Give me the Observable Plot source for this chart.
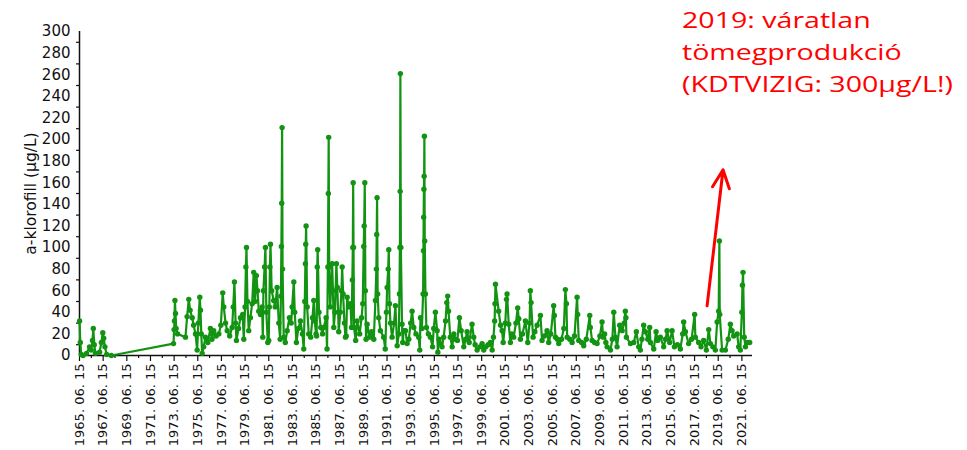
<!DOCTYPE html>
<html><head><meta charset="utf-8">
<script src="https://cdn.jsdelivr.net/npm/d3@7"></script>
<script src="https://cdn.jsdelivr.net/npm/@observablehq/plot@0.6"></script>
<style>
body{margin:0;background:#fff;}
#wrap{position:relative;width:967px;height:450px;}
#note{position:absolute;left:682px;top:4px;color:#ff0000;font-family:"Open Sans",sans-serif;font-size:21px;line-height:32px;transform:scaleX(1.36);transform-origin:0 0;white-space:nowrap;}
</style></head><body>
<div id="wrap"><div id="note">2019: váratlan<br>tömegprodukció<br>(KDTVIZIG: 300µg/L!)</div></div>
<script>
// sampling time (decimal years) and a-chlorophyll (µg/L)
const sampleYear = [
1965.46,1965.52,1965.60,1965.75,1966.05,1966.30,1966.45,1966.55,1966.62,1966.70,1966.80,1967.15,1967.30,1967.42,1967.50,1967.60,1967.75,1968.15,
1973.40,1973.45,1973.48,1973.52,1973.57,1973.62,1973.75,1974.41,1974.55,1974.69,1974.80,1974.98,1975.10,1975.26,1975.40,1975.50,1975.62,1975.68,1975.75,1975.82,1975.95,
1976.10,1976.30,1976.52,1976.65,1976.80,1977.00,1977.23,1977.40,1977.56,1977.65,1977.80,1977.94,1978.15,1978.36,1978.45,1978.55,1978.65,1978.72,1978.90,
1979.06,1979.25,1979.34,1979.45,1979.52,1979.57,1979.65,1979.76,1979.90,1980.05,1980.18,1980.28,1980.41,1980.50,1980.61,1980.75,1980.89,1980.95,
1981.00,1981.10,1981.17,1981.25,1981.37,1981.45,1981.50,1981.55,1981.60,1981.70,1981.87,1982.00,1982.16,1982.30,1982.42,1982.48,1982.52,1982.55,1982.58,1982.62,1982.72,1982.85,
1983.01,1983.20,1983.35,1983.43,1983.57,1983.65,1983.79,1983.95,1984.13,1984.30,1984.41,1984.50,1984.55,1984.58,1984.61,1984.70,1984.83,
1985.00,1985.15,1985.26,1985.34,1985.45,1985.50,1985.55,1985.59,1985.70,1985.85,1986.00,1986.10,1986.30,1986.38,1986.45,1986.49,1986.52,1986.56,1986.65,1986.81,1986.88,1986.95,
1987.05,1987.17,1987.25,1987.37,1987.50,1987.60,1987.66,1987.74,1987.85,1987.94,1988.00,1988.08,1988.20,1988.36,1988.45,1988.52,1988.56,1988.59,1988.62,1988.66,1988.80,1988.92,
1989.14,1989.30,1989.40,1989.48,1989.52,1989.57,1989.62,1989.68,1989.77,1989.99,1990.15,1990.33,1990.47,1990.55,1990.58,1990.61,1990.66,1990.75,1990.89,
1991.17,1991.30,1991.40,1991.46,1991.55,1991.60,1991.66,1991.74,1991.88,1992.05,1992.16,1992.31,1992.45,1992.50,1992.54,1992.56,1992.58,1992.62,1992.72,1992.78,1992.86,
1993.01,1993.15,1993.29,1993.45,1993.57,1993.71,1993.90,1994.13,1994.22,1994.28,1994.40,1994.50,1994.53,1994.55,1994.57,1994.59,1994.61,1994.64,1994.70,1994.78,1994.95,
1995.12,1995.30,1995.40,1995.54,1995.69,1995.75,1995.85,1995.97,1996.10,1996.24,1996.40,1996.50,1996.58,1996.65,1996.80,1996.96,
1997.10,1997.23,1997.40,1997.57,1997.72,1997.94,1998.10,1998.22,1998.40,1998.64,1998.78,1998.90,1999.07,1999.30,1999.49,1999.63,1999.80,
2000.00,2000.19,2000.34,2000.45,2000.55,2000.58,2000.62,2000.89,2001.05,2001.18,2001.27,2001.45,2001.55,2001.60,2001.74,2001.88,
2002.00,2002.16,2002.35,2002.50,2002.59,2002.73,2002.90,2003.15,2003.35,2003.50,2003.57,2003.63,2003.80,2003.95,
2004.14,2004.42,2004.56,2004.75,2004.98,2005.12,2005.30,2005.54,2005.60,2005.69,2005.85,2005.97,
2006.20,2006.40,2006.53,2006.62,2006.68,2006.90,2007.10,2007.30,2007.52,2007.57,2007.66,2007.90,
2008.08,2008.30,2008.59,2008.64,2008.79,2009.00,2009.21,2009.45,2009.63,2009.72,2009.85,2009.95,
2010.06,2010.34,2010.50,2010.62,2010.76,2010.90,2011.12,2011.33,2011.50,2011.60,2011.65,2011.69,
2012.03,2012.31,2012.53,2012.73,2012.87,2013.00,2013.15,2013.29,2013.50,2013.66,2013.72,
2014.00,2014.20,2014.33,2014.56,2014.84,2015.00,2015.13,2015.35,2015.55,2015.75,
2016.00,2016.25,2016.45,2016.53,2016.68,2016.95,2017.20,2017.46,2017.52,2017.80,
2018.00,2018.22,2018.45,2018.65,2018.79,2019.00,2019.21,2019.36,2019.49,2019.55,2019.58,2019.78,
2020.06,2020.30,2020.48,2020.62,2020.76,2021.05,2021.18,2021.32,2021.45,2021.50,2021.55,2021.65,2021.75,2021.89,2022.11
];
const chlorophyll = [
32,12,1,0,2,8,5,14,25,10,2,3,12,21,16,8,1,0,
11,24,32,51,39,25,20,17,36,52,42,35,28,20,5,30,54,42,20,2,8,
17,12,25,15,23,18,20,28,58,45,30,23,18,26,45,68,30,14,25,
35,38,15,45,82,100,50,23,35,48,77,50,74,60,41,38,45,17,
60,82,100,40,12,14,45,82,103,60,51,45,63,30,15,55,101,141,211,80,17,12,
23,35,30,45,68,40,12,25,32,20,6,50,85,103,120,45,20,
17,35,51,32,20,18,82,98,40,26,20,26,35,6,82,150,202,82,45,85,60,26,
40,85,63,22,40,60,82,57,30,17,18,54,45,48,26,70,100,160,100,26,14,32,
20,35,48,101,120,160,60,15,29,17,22,15,51,80,112,146,57,35,23,
17,6,40,63,80,98,48,30,17,30,46,9,20,57,100,152,261,100,29,12,23,
23,11,15,30,41,26,20,17,5,35,25,57,97,128,154,166,203,106,57,26,20,
17,8,25,40,23,3,15,11,8,17,32,49,55,41,17,8,
20,15,14,35,23,8,15,22,12,29,17,10,5,8,11,5,8,
10,12,5,17,32,48,66,41,28,23,12,30,52,57,29,12,
20,17,30,44,34,15,20,32,12,30,60,49,17,22,
28,37,14,18,23,12,20,46,37,17,15,11,
15,25,61,48,17,15,12,18,54,38,14,12,
9,15,37,26,14,12,11,18,31,17,20,12,
8,5,15,40,17,8,28,23,30,41,35,17,
11,12,22,8,5,15,28,22,15,26,12,
6,22,14,17,8,15,23,12,23,8,
10,6,20,31,22,11,15,38,17,12,
8,14,5,24,11,8,5,31,41,106,38,5,
5,15,29,23,18,20,8,5,40,65,77,17,8,12,12
];
const yTickLabels = [0,20,40,60,80,100,120,140,160,180,200,220,240,260,280,300];
const yTickMarks = [10,30,50,70,90,110,130,150,170,190,210,230,250,270,290];
const xTickLabels = ["1965. 06. 15","1967. 06. 15","1969. 06. 15","1971. 06. 15","1973. 06. 15","1975. 06. 15","1977. 06. 15","1979. 06. 15","1981. 06. 15","1983. 06. 15","1985. 06. 15","1987. 06. 15","1989. 06. 15","1991. 06. 15","1993. 06. 15","1995. 06. 15","1997. 06. 15","1999. 06. 15","2001. 06. 15","2003. 06. 15","2005. 06. 15","2007. 06. 15","2009. 06. 15","2011. 06. 15","2013. 06. 15","2015. 06. 15","2017. 06. 15","2019. 06. 15","2021. 06. 15"];
const yLabel = "a-klorofill (µg/L)";
const arrowStart = {t: 2018.51, v: 46};
const arrowEnd = {t: 2019.86, v: 172};

const green = "#129412";
const data = sampleYear.map((t, i) => ({t, v: chlorophyll[i]}));
const toYear = s => +s.slice(0, 4) + 165 / 365;
const majorTicks = xTickLabels.map(toYear);
const minorTicks = majorTicks.slice(0, -1).map(t => t + 1);
const labelOf = new Map(majorTicks.map((t, i) => [t, xTickLabels[i]]));
const xStart = majorTicks[0];

const chart = Plot.plot({
  width: 967, height: 450,
  marginLeft: 79, marginRight: 215, marginTop: 31, marginBottom: 95,
  x: {type: "linear", domain: [xStart, 2022.35], axis: null},
  y: {domain: [0, 300], axis: null},
  style: {fontFamily: "DejaVu Sans", color: "#111", background: "white"},
  marks: [
    Plot.axisY({ticks: yTickLabels, tickSize: 0, tickPadding: 9, fontSize: 15, label: yLabel, labelAnchor: "center", labelOffset: 55, labelArrow: "none"}),
    Plot.axisY({ticks: yTickMarks, tickSize: 3, tickFormat: () => "", label: null, strokeWidth: 1.2}),
    Plot.axisX({ticks: majorTicks, tickSize: 6, tickPadding: 2, tickRotate: -90, tickFormat: d => labelOf.get(d), fontSize: 13, label: null, strokeWidth: 1.2}),
    Plot.axisX({ticks: minorTicks, tickSize: 3, tickFormat: () => "", label: null, strokeWidth: 1.2}),
    Plot.ruleX([xStart], {stroke: "#111", strokeWidth: 1.5}),
    Plot.ruleY([0], {stroke: "#111", strokeWidth: 1.5}),
    Plot.line(data, {x: "t", y: "v", stroke: green, strokeWidth: 2.2}),
    Plot.dot(data, {x: "t", y: "v", r: 2.7, fill: green, stroke: "none"}),
    Plot.arrow([{}], {x1: () => arrowStart.t, y1: () => arrowStart.v, x2: () => arrowEnd.t, y2: () => arrowEnd.v, stroke: "#ff0000", strokeWidth: 3, headLength: 10, headAngle: 50})
  ]
});
d3.select(chart).selectAll('[aria-label="y-axis label"] text').attr("font-size", 15.5);
document.getElementById("wrap").prepend(chart);
</script>
</body></html>
